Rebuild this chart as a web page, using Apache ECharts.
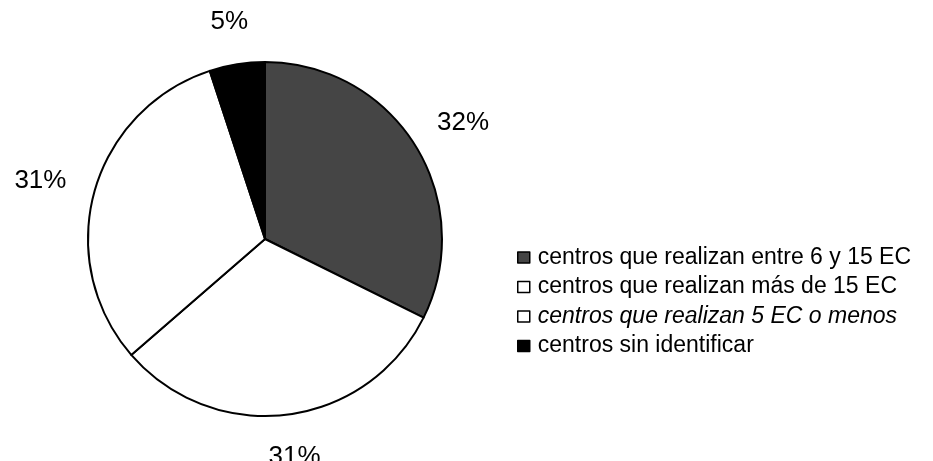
<!DOCTYPE html>
<html>
<head>
<meta charset="utf-8">
<script src="https://cdn.jsdelivr.net/npm/echarts@6/dist/echarts.min.js"></script>
<style>
html,body{margin:0;padding:0;background:#fff;}
#c{width:933px;height:461px;}
</style>
</head>
<body>
<div id="c"></div>
<script>
const categories = [
  'centros que realizan entre 6 y 15 EC',
  'centros que realizan más de 15 EC',
  'centros que realizan 5 EC o menos',
  'centros sin identificar'
];
const values = [32, 31, 31, 5];
const colors = ['#454545', '#ffffff', '#ffffff', '#000000'];

const CX = 265, CY = 239, R = 177, LABEL_RING = 207;
const total = values.reduce((a, b) => a + b, 0);

const chart = echarts.init(document.getElementById('c'));
chart.setOption({
  backgroundColor: '#ffffff',
  animation: false,
  legend: {
    orient: 'vertical',
    left: 512,
    top: 241,
    itemWidth: 12,
    itemHeight: 11,
    itemGap: 6.5,
    icon: 'rect',
    itemStyle: { borderColor: '#000', borderWidth: 1.5 },
    textStyle: {
      fontFamily: 'Liberation Sans, Arial, sans-serif',
      fontSize: 23,
      color: '#000',
      padding: [0, 0, 0, 3]
    },
    data: categories.map((c, i) => i === 2
      ? { name: c, textStyle: { fontStyle: 'italic' } }
      : { name: c })
  },
  series: [{
    type: 'pie',
    center: [CX, CY],
    radius: R,
    startAngle: 90,
    clockwise: true,
    avoidLabelOverlap: false,
    itemStyle: { borderColor: '#000', borderWidth: 2 },
    label: {
      show: true,
      position: 'outside',
      fontFamily: 'Liberation Sans, Arial, sans-serif',
      fontSize: 26,
      color: '#000',
      formatter: p => p.value + '%'
    },
    labelLine: { show: false },
    labelLayout: function (p) {
      const i = p.dataIndex;
      let start = 0;
      for (let j = 0; j < i; j++) start += values[j];
      const mid = (start + values[i] / 2) / total * Math.PI * 2;
      const dx = Math.sin(mid), dy = -Math.cos(mid);
      const w = p.labelRect.width, h = p.labelRect.height;
      return {
        x: CX + LABEL_RING * dx + dx * w / 2,
        y: CY + LABEL_RING * dy + dy * h / 2,
        align: 'center',
        verticalAlign: 'middle'
      };
    },
    emphasis: { disabled: true },
    data: categories.map((c, i) => ({
      name: c,
      value: values[i],
      itemStyle: { color: colors[i] }
    }))
  }]
});
</script>
</body>
</html>
